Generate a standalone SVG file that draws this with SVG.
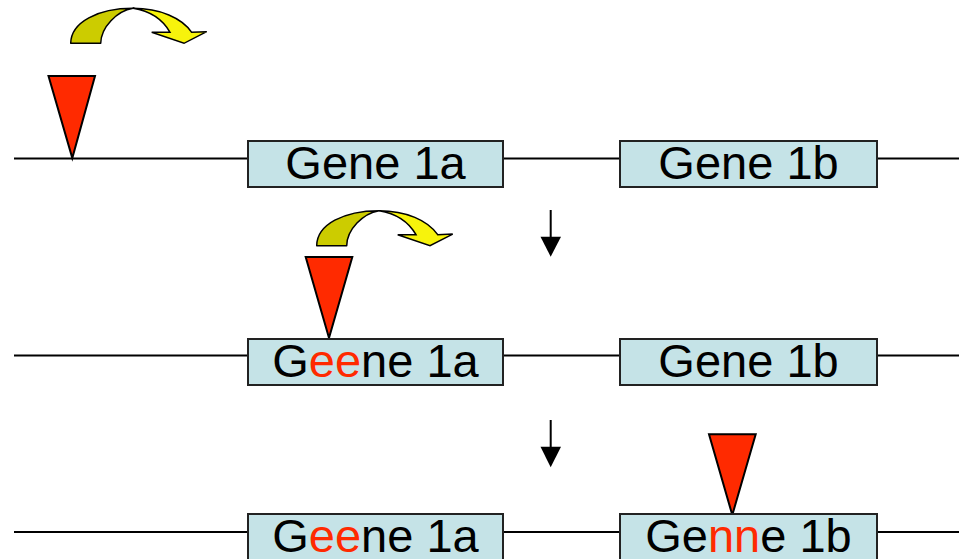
<svg xmlns="http://www.w3.org/2000/svg" xmlns:xlink="http://www.w3.org/1999/xlink" width="959" height="559" viewBox="0 0 959 559">
  <style>
    .dna { stroke: #000; stroke-width: 2; fill: none; }
    .gene { fill: #C5E3E7; stroke: #222; stroke-width: 2; }
    .label { font-family: "Liberation Sans", Arial, sans-serif; font-size: 47px; fill: #000; text-anchor: middle; }
    .mut { fill: #FF2A00; }
    .insert { fill: #FF2A00; stroke: #000; stroke-width: 2; stroke-linejoin: miter; }
    .jump-back { fill: #CCCC00; stroke: #000; stroke-width: 1.5; stroke-linejoin: round; }
    .jump-front { fill: #F7F30C; stroke: #000; stroke-width: 1.5; stroke-linejoin: miter; }
    .step { stroke: #000; stroke-width: 2; }
  </style>
  <defs>
    <!-- curved "jump" arrow, drawn at its first-row position -->
    <g id="jump">
      <path class="jump-back" d="M70.7,43.3 C71,22 98,8.3 133,8.3 C117,11 101,27 100.7,43.3 Z"/>
      <path class="jump-front" d="M133,8.3 C160,8.3 182,18 191.7,32.3 L206.7,31.7 L184,43.3 L151.7,32.3 L170,32.3 C163,20 150,11 133,8.3 Z"/>
    </g>
    <marker id="stepHead" markerWidth="10" markerHeight="10" refX="5" refY="10" orient="auto" markerUnits="userSpaceOnUse" viewBox="0 0 10 10">
      <path d="M0,0 L10,0 L5,10 Z" fill="#000"/>
    </marker>
  </defs>

  <rect width="959" height="559" fill="#fff"/>

  <!-- chromosome lines and step arrows -->
  <g id="connectors">
    <path class="dna" d="M14,158.5 H248 M503,158.5 H620 M877,158.5 H959"/>
    <path class="dna" d="M14,355.5 H248 M503,355.5 H620 M877,355.5 H959"/>
    <path class="dna" d="M14,532 H248 M503,532 H620 M877,532 H959"/>
    <line class="step" x1="550.7" y1="210" x2="550.7" y2="238"/>
    <path d="M540.5,236.7 L561,236.7 L550.7,256.7 Z" fill="#000"/>
    <line class="step" x1="550.7" y1="420" x2="550.7" y2="448"/>
    <path d="M540.5,446.7 L561,446.7 L550.7,467.3 Z" fill="#000"/>
  </g>

  <!-- row 1 -->
  <g id="jump1"><use xlink:href="#jump" href="#jump"/></g>
  <g id="insert1"><polygon class="insert" points="48.5,76 95,76 72.3,158"/></g>
  <g id="gene1a-row1">
    <rect class="gene" x="248" y="141" width="255" height="46"/>
    <text class="label" x="375.5" y="179">Gene 1a</text>
  </g>
  <g id="gene1b-row1">
    <rect class="gene" x="620" y="141" width="257" height="46"/>
    <text class="label" x="748.5" y="179">Gene 1b</text>
  </g>

  <!-- row 2 -->
  <g id="jump2"><use xlink:href="#jump" href="#jump" transform="translate(246,202.4)"/></g>
  <g id="insert2"><polygon class="insert" points="305.7,257 352.3,257 329,338"/></g>
  <g id="gene1a-row2">
    <rect class="gene" x="248" y="339" width="255" height="46"/>
    <text class="label" x="375.5" y="377">G<tspan class="mut">ee</tspan>ne 1a</text>
  </g>
  <g id="gene1b-row2">
    <rect class="gene" x="620" y="339" width="257" height="46"/>
    <text class="label" x="748.5" y="377">Gene 1b</text>
  </g>

  <!-- row 3 -->
  <g id="insert3"><polygon class="insert" points="709,434.3 755.7,434.3 732.3,515"/></g>
  <g id="gene1a-row3">
    <rect class="gene" x="248" y="514" width="255" height="47"/>
    <text class="label" x="375.5" y="552">G<tspan class="mut">ee</tspan>ne 1a</text>
  </g>
  <g id="gene1b-row3">
    <rect class="gene" x="620" y="514" width="257" height="47"/>
    <text class="label" x="748.5" y="552">Ge<tspan class="mut">nn</tspan>e 1b</text>
  </g>
</svg>
